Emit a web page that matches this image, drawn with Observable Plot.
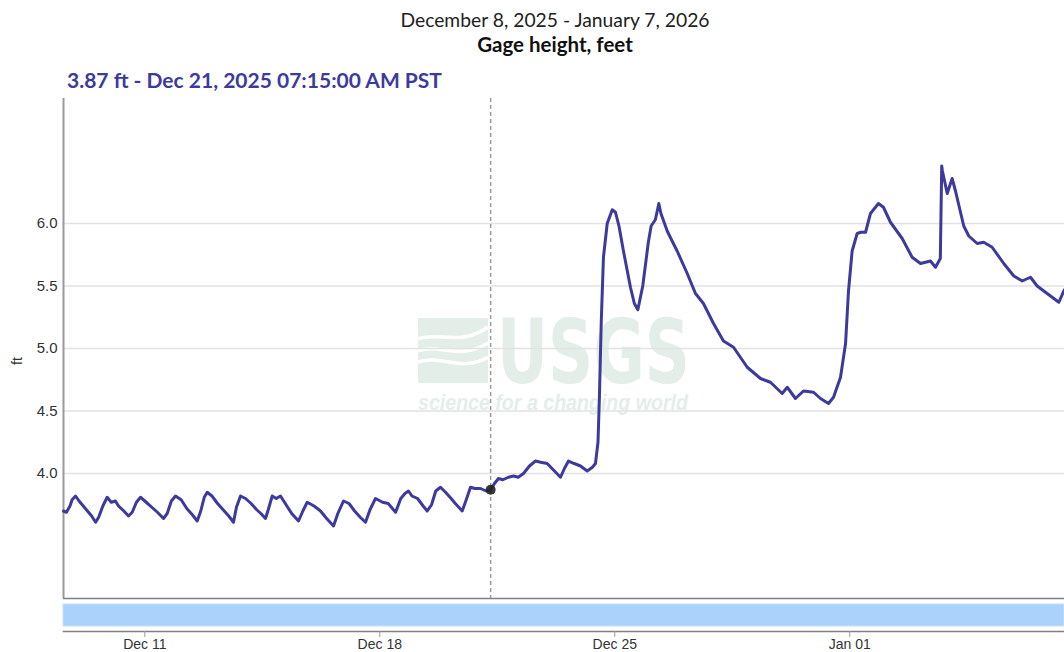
<!DOCTYPE html>
<html><head><meta charset="utf-8">
<script src="https://cdn.jsdelivr.net/npm/d3@7"></script>
<script src="https://cdn.jsdelivr.net/npm/@observablehq/plot@0.6"></script>
<style>
html,body{margin:0;padding:0;background:#fff}
body{width:1064px;height:652px;overflow:hidden;position:relative;font-family:Lato,'Open Sans',sans-serif}
.abs{position:absolute;white-space:nowrap;line-height:1;z-index:2}
#title{left:555px;top:10px;transform:translateX(-50%);font-size:19.3px;color:#222}
#subtitle{left:555px;top:34px;transform:translateX(-50%);font-size:20.5px;font-weight:bold;color:#111}
#value{left:67px;top:69px;font-size:21px;font-weight:bold;color:#3d3a9e}
#ylab{left:17px;top:361px;transform:translate(-50%,-50%) rotate(-90deg);font-family:'Liberation Sans',Arial,sans-serif;font-size:14px;color:#333}
#main{position:absolute;left:0;top:90px;z-index:1}
#nav{position:absolute;left:0;top:600px;z-index:1}
</style>
</head><body>
<div id="title" class="abs"></div>
<div id="subtitle" class="abs"></div>
<div id="value" class="abs"></div>
<div id="ylab" class="abs"></div>
<div id="main"></div>
<div id="nav"></div>
<script>
// ---- data (times in PST, written as clock time) ----
const titleText = "December 8, 2025 - January 7, 2026";
const subtitleText = "Gage height, feet";
const unitLabel = "ft";
const times = [
"2025-12-08T13:52","2025-12-08T16:00","2025-12-08T18:30","2025-12-08T20:00","2025-12-08T22:30",
"2025-12-09T01:00","2025-12-09T04:00","2025-12-09T07:00","2025-12-09T10:00","2025-12-09T12:48",
"2025-12-09T15:00","2025-12-09T18:00","2025-12-09T21:06","2025-12-10T00:00","2025-12-10T03:00",
"2025-12-10T05:12","2025-12-10T09:00","2025-12-10T12:21","2025-12-10T15:00","2025-12-10T18:00",
"2025-12-10T20:56","2025-12-11T01:00","2025-12-11T05:00","2025-12-11T09:00","2025-12-11T13:22",
"2025-12-11T16:00","2025-12-11T19:00","2025-12-11T21:57","2025-12-12T02:00","2025-12-12T06:00",
"2025-12-12T10:00","2025-12-12T13:28","2025-12-12T16:00","2025-12-12T18:30","2025-12-12T20:37",
"2025-12-13T00:00","2025-12-13T04:00","2025-12-13T08:00","2025-12-13T12:00","2025-12-13T15:25",
"2025-12-13T17:30","2025-12-13T20:25","2025-12-14T00:00","2025-12-14T04:00","2025-12-14T08:00",
"2025-12-14T11:00","2025-12-14T14:18","2025-12-14T16:30","2025-12-14T19:05","2025-12-14T22:00",
"2025-12-15T01:00","2025-12-15T05:00","2025-12-15T09:00","2025-12-15T13:53","2025-12-15T17:00",
"2025-12-15T20:06","2025-12-16T01:00","2025-12-16T05:37","2025-12-16T10:00","2025-12-16T14:55",
"2025-12-16T18:00","2025-12-16T22:03","2025-12-17T02:00","2025-12-17T06:00","2025-12-17T10:00",
"2025-12-17T13:47","2025-12-17T17:00","2025-12-17T20:56","2025-12-18T02:00","2025-12-18T06:00",
"2025-12-18T11:18","2025-12-18T15:00","2025-12-18T18:00","2025-12-18T20:31","2025-12-18T23:00",
"2025-12-19T03:00","2025-12-19T07:00","2025-12-19T09:54","2025-12-19T13:00","2025-12-19T16:00",
"2025-12-19T19:24","2025-12-19T23:00","2025-12-20T03:00","2025-12-20T06:00","2025-12-20T10:55",
"2025-12-20T13:30","2025-12-20T16:51","2025-12-20T20:00","2025-12-21T00:00","2025-12-21T04:00",
"2025-12-21T07:15","2025-12-21T10:00","2025-12-21T12:52","2025-12-21T16:00","2025-12-21T20:00",
"2025-12-21T23:36","2025-12-22T03:00","2025-12-22T06:44","2025-12-22T11:00","2025-12-22T15:18",
"2025-12-22T19:00","2025-12-22T23:42","2025-12-23T04:00","2025-12-23T09:12","2025-12-23T12:00",
"2025-12-23T14:54","2025-12-23T19:00","2025-12-23T23:30","2025-12-24T04:18","2025-12-24T08:00",
"2025-12-24T10:12","2025-12-24T12:00","2025-12-24T13:00","2025-12-24T14:18","2025-12-24T15:54",
"2025-12-24T18:36","2025-12-24T22:12","2025-12-25T00:30","2025-12-25T03:00","2025-12-25T06:12",
"2025-12-25T11:12","2025-12-25T14:00","2025-12-25T16:30","2025-12-25T20:00","2025-12-26T00:00",
"2025-12-26T02:00","2025-12-26T05:00","2025-12-26T07:30","2025-12-26T09:00","2025-12-26T13:30",
"2025-12-26T17:00","2025-12-26T20:36","2025-12-27T03:48","2025-12-27T09:42","2025-12-27T15:24",
"2025-12-27T22:36","2025-12-28T05:42","2025-12-28T12:54","2025-12-28T22:42","2025-12-29T08:12",
"2025-12-29T15:18","2025-12-29T23:42","2025-12-30T03:18","2025-12-30T09:12","2025-12-30T14:54",
"2025-12-30T22:06","2025-12-31T03:06","2025-12-31T08:48","2025-12-31T12:24","2025-12-31T17:24",
"2025-12-31T21:00","2025-12-31T23:06","2026-01-01T01:42","2026-01-01T05:18","2026-01-01T08:00",
"2026-01-01T11:18","2026-01-01T14:48","2026-01-01T20:30","2026-01-02T00:06","2026-01-02T05:06",
"2026-01-02T13:30","2026-01-02T20:36","2026-01-03T02:36","2026-01-03T09:42","2026-01-03T13:18",
"2026-01-03T16:45","2026-01-03T17:45","2026-01-03T18:15","2026-01-03T21:42","2026-01-04T01:12",
"2026-01-04T03:36","2026-01-04T09:30","2026-01-04T13:06","2026-01-04T19:06","2026-01-04T23:48",
"2026-01-05T05:48","2026-01-05T14:06","2026-01-05T21:18","2026-01-06T03:18","2026-01-06T09:12",
"2026-01-06T14:00","2026-01-06T23:30","2026-01-07T05:30","2026-01-07T09:00","2026-01-07T09:32"
];
const heights = [
3.70,3.69,3.74,3.79,3.82,
3.78,3.74,3.70,3.66,3.61,
3.65,3.74,3.81,3.77,3.78,
3.74,3.70,3.66,3.69,3.77,
3.81,3.77,3.73,3.69,3.64,
3.68,3.78,3.82,3.79,3.72,
3.67,3.62,3.70,3.81,3.85,
3.82,3.76,3.71,3.66,3.61,
3.73,3.82,3.80,3.76,3.71,
3.68,3.64,3.72,3.82,3.80,
3.82,3.75,3.68,3.62,3.70,
3.77,3.74,3.70,3.64,3.58,
3.68,3.78,3.76,3.70,3.65,
3.61,3.71,3.80,3.77,3.76,
3.69,3.80,3.84,3.86,3.82,
3.80,3.74,3.70,3.75,3.86,
3.89,3.85,3.80,3.76,3.70,
3.78,3.89,3.88,3.88,3.86,
3.87,3.92,3.96,3.95,3.97,
3.98,3.97,4.00,4.06,4.10,
4.09,4.08,4.03,3.97,4.04,
4.10,4.08,4.06,4.02,4.05,
4.08,4.25,4.60,5.20,5.73,
6.00,6.11,6.09,5.98,5.78,
5.49,5.36,5.31,5.50,5.85,
5.98,6.03,6.16,6.08,5.94,
5.86,5.78,5.60,5.44,5.36,
5.20,5.06,5.01,4.85,4.76,
4.73,4.64,4.69,4.60,4.66,
4.65,4.60,4.56,4.61,4.77,
5.04,5.46,5.78,5.92,5.93,
5.93,6.08,6.16,6.13,6.01,
5.88,5.73,5.68,5.70,5.65,
5.72,6.46,6.42,6.24,6.36,
6.26,5.98,5.90,5.84,5.85,
5.81,5.68,5.58,5.54,5.57,
5.50,5.42,5.37,5.46,5.47
];
const yTicks = [4.0, 4.5, 5.0, 5.5, 6.0];
const xTickDates = ["2025-12-11T00:00","2025-12-18T00:00","2025-12-25T00:00","2026-01-01T00:00"];
const xTickLabels = ["Dec 11","Dec 18","Dec 25","Jan 01"];
const xDomain = ["2025-12-08T13:52","2026-01-07T09:32"];
const yDomain = [3, 7];
const selectedTime = "2025-12-21T07:15";
const selectedValue = 3.87;
const selectedLabel = "3.87 ft - Dec 21, 2025 07:15:00 AM PST";

// ---- build ----
const parse = s => new Date(s + ":00Z");
const data = times.map((t, i) => ({t: parse(t), v: heights[i]}));
const xd = xDomain.map(parse);
const tickMap = new Map(xTickDates.map((s, i) => [+parse(s), xTickLabels[i]]));
const sel = {t: parse(selectedTime), v: selectedValue};

document.getElementById("title").textContent = titleText;
document.getElementById("subtitle").textContent = subtitleText;
document.getElementById("value").textContent = selectedLabel;
document.getElementById("ylab").textContent = unitLabel;

const axisFont = {fontFamily: "'Liberation Sans', Arial, sans-serif", fontSize: "15px", color: "#333", background: "transparent", overflow: "visible"};

function watermark(index, scales, values, dims) {
  const ns = "http://www.w3.org/2000/svg";
  const g = document.createElementNS(ns, "g");
  const cx = dims.marginLeft + (dims.width - dims.marginLeft - dims.marginRight) / 2;
  const cy = dims.marginTop + (dims.height - dims.marginTop - dims.marginBottom) / 2;
  g.setAttribute("transform", `translate(${cx - 145.5},${cy - 33})`);
  g.setAttribute("text-anchor", "start");
  const col = "#e4eee9";
  const r = document.createElementNS(ns, "rect");
  r.setAttribute("x", 0); r.setAttribute("y", 3); r.setAttribute("width", 70); r.setAttribute("height", 65);
  r.setAttribute("fill", col); g.appendChild(r);
  ["M0,24 C20,16 42,32 70,12","M0,36 C20,28 42,46 70,28","M0,47 C22,39 44,58 70,42"].forEach(d => {
    const p = document.createElementNS(ns, "path");
    p.setAttribute("d", d); p.setAttribute("fill", "none"); p.setAttribute("stroke", "#fff"); p.setAttribute("stroke-width", 3.5);
    g.appendChild(p);
  });
  const t1 = document.createElementNS(ns, "text");
  t1.setAttribute("x", 79); t1.setAttribute("y", 68); t1.setAttribute("fill", col);
  t1.setAttribute("text-anchor", "start");
  t1.setAttribute("font-family", "'DejaVu Sans Condensed','DejaVu Sans',sans-serif");
  t1.setAttribute("font-weight", "bold"); t1.setAttribute("font-size", 89);
  t1.setAttribute("textLength", 193); t1.setAttribute("lengthAdjust", "spacingAndGlyphs");
  t1.textContent = "USGS"; g.appendChild(t1);
  const t2 = document.createElementNS(ns, "text");
  t2.setAttribute("x", 0); t2.setAttribute("y", 95); t2.setAttribute("fill", col);
  t2.setAttribute("text-anchor", "start");
  t2.setAttribute("font-family", "'Liberation Sans',Arial,sans-serif");
  t2.setAttribute("font-weight", "bold"); t2.setAttribute("font-style", "italic"); t2.setAttribute("font-size", 22);
  t2.setAttribute("textLength", 270); t2.setAttribute("lengthAdjust", "spacingAndGlyphs");
  t2.textContent = "science for a changing world"; g.appendChild(t2);
  return g;
}

const main = Plot.plot({
  width: 1064, height: 510,
  marginTop: 8, marginBottom: 2, marginLeft: 63, marginRight: 0,
  x: {type: "utc", domain: xd, axis: null},
  y: {domain: yDomain, axis: null},
  style: axisFont,
  marks: [
    watermark,
    Plot.gridY(yTicks, {stroke: "#e2e2e2", strokeOpacity: 1, strokeWidth: 1.5}),
    Plot.axisY(yTicks, {tickSize: 0, tickPadding: 6, tickFormat: d => d.toFixed(1), label: null, fill: "#333"}),
    Plot.ruleX([xd[0]], {stroke: "#9a9a9a", strokeWidth: 2}),
    Plot.ruleY([yDomain[0]], {stroke: "#808080", strokeWidth: 1.5}),
    Plot.ruleX([sel.t], {stroke: "#9a9a9a", strokeWidth: 1.5, strokeDasharray: "4,3"}),
    Plot.line(data, {x: "t", y: "v", stroke: "#3d3a9e", strokeWidth: 3, strokeLinejoin: "round"}),
    Plot.dot([sel], {x: "t", y: "v", r: 5, fill: "#222", fillOpacity: 0.9})
  ]
});
document.getElementById("main").appendChild(main);

const nav = Plot.plot({
  width: 1064, height: 52,
  marginTop: 4, marginBottom: 21, marginLeft: 63, marginRight: 0,
  x: {type: "utc", domain: xd, axis: null},
  style: {...axisFont, fontSize: "14px"},
  marks: [
    Plot.rect([xd], {x1: d => d[0], x2: d => d[1], insetBottom: 5, fill: "#aad2fb", stroke: "#c6e0fc", strokeWidth: 1}),
    Plot.frame({anchor: "bottom", stroke: "#808080", strokeWidth: 1.5}),
    Plot.axisX(xTickDates.map(parse), {tickSize: 6, tickPadding: 2, stroke: "#999", fill: "#333",
      tickFormat: d => tickMap.get(+d), label: null})
  ]
});
document.getElementById("nav").appendChild(nav);
</script>
</body></html>
